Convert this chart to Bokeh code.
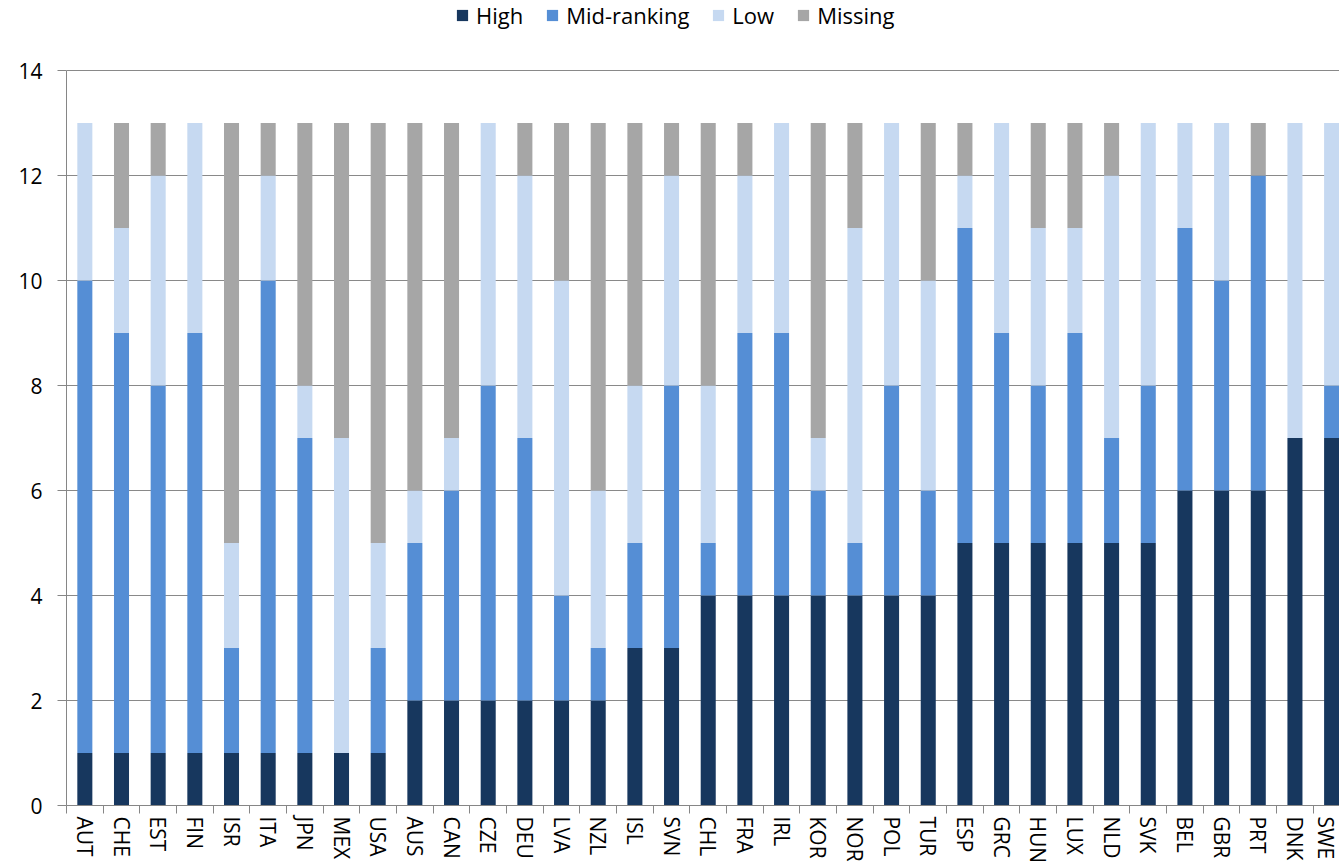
from bokeh.plotting import figure
from bokeh.models import ColumnDataSource, Range1d, FixedTicker, Legend
from bokeh.embed import file_html
from bokeh.resources import INLINE

countries = ["AUT", "CHE", "EST", "FIN", "ISR", "ITA", "JPN", "MEX", "USA", "AUS",
             "CAN", "CZE", "DEU", "LVA", "NZL", "ISL", "SVN", "CHL", "FRA", "IRL",
             "KOR", "NOR", "POL", "TUR", "ESP", "GRC", "HUN", "LUX", "NLD", "SVK",
             "BEL", "GBR", "PRT", "DNK", "SWE"]
high    = [1, 1, 1, 1, 1, 1, 1, 1, 1, 2, 2, 2, 2, 2, 2, 3, 3, 4, 4, 4, 4, 4, 4, 4, 5, 5, 5, 5, 5, 5, 6, 6, 6, 7, 7]
mid     = [9, 8, 7, 8, 2, 9, 6, 0, 2, 3, 4, 6, 5, 2, 1, 2, 5, 1, 5, 5, 2, 1, 4, 2, 6, 4, 3, 4, 2, 3, 5, 4, 6, 0, 1]
low     = [3, 2, 4, 4, 2, 2, 1, 6, 2, 1, 1, 5, 5, 6, 3, 3, 4, 3, 3, 4, 1, 6, 5, 4, 1, 4, 3, 2, 5, 5, 2, 3, 0, 6, 5]
missing = [0, 2, 1, 0, 8, 1, 5, 6, 8, 7, 6, 0, 1, 3, 7, 5, 1, 5, 1, 0, 6, 2, 0, 3, 1, 0, 2, 2, 1, 0, 0, 0, 1, 0, 0]
series = ["High", "Mid-ranking", "Low", "Missing"]
colors = ["#17375E", "#558ED5", "#C6D9F1", "#A6A6A6"]
y_ticks = [0, 2, 4, 6, 8, 10, 12, 14]

n = len(countries)
centers = [i + 0.5 for i in range(n)]
source = ColumnDataSource(dict(x=centers, High=high, **{"Mid-ranking": mid}, Low=low, Missing=missing))

FONT = "Open Sans"
FRAME_W = 1273
PLOT_TOP = 70          # pixels reserved above the 14 gridline (legend lives there)
PLOT_H = 735           # pixels from 0 to 14
FRAME_H = PLOT_H + PLOT_TOP
Y_MAX = 14

p = figure(frame_width=FRAME_W, frame_height=FRAME_H, output_backend="svg", toolbar_location=None,
           x_range=Range1d(0, FRAME_W / 36.67), y_range=Range1d(0, Y_MAX * FRAME_H / PLOT_H),
           min_border_left=66, min_border_right=0, min_border_top=0, min_border_bottom=50)
p.outline_line_color = None
p.background_fill_color = "white"

renderers = p.vbar_stack(series, x="x", width=0.41, color=colors, line_color=None, source=source)

# grid
p.xgrid.grid_line_color = None
p.ygrid.ticker = FixedTicker(ticks=y_ticks)
p.ygrid.grid_line_color = "#898989"
p.ygrid.grid_line_width = 1

# y axis
p.yaxis.ticker = FixedTicker(ticks=y_ticks)
p.yaxis.bounds = (0, Y_MAX)
p.yaxis.axis_line_color = "#868686"
p.yaxis.major_tick_line_color = "#868686"
p.yaxis.major_tick_out = 9
p.yaxis.major_tick_in = 0
p.yaxis.minor_tick_line_color = None
p.yaxis.major_label_text_font = FONT
p.yaxis.major_label_text_font_size = "21px"
p.yaxis.major_label_text_color = "#000000"
p.yaxis.major_label_standoff = 15

# x axis: labels at centres, tick marks at category boundaries
p.xaxis.ticker = FixedTicker(ticks=centers, minor_ticks=list(range(n + 1)))
p.xaxis.major_label_overrides = {c: lab for c, lab in zip(centers, countries)}
p.xaxis.major_tick_line_color = None
p.xaxis.major_tick_out = 8
p.xaxis.minor_tick_line_color = "#868686"
p.xaxis.minor_tick_out = 8
p.xaxis.minor_tick_in = 0
p.xaxis.axis_line_color = "#868686"
p.xaxis.major_label_orientation = "vertical"
p.xaxis.major_label_text_font = FONT
p.xaxis.major_label_text_font_size = "21px"
p.xaxis.major_label_text_color = "#000000"
p.xaxis.major_label_standoff = 3

legend = Legend(items=[(s, [r]) for s, r in zip(series, renderers)],
                orientation="horizontal", location=(389, FRAME_H - 30),
                label_text_font=FONT, label_text_font_size="22px", label_text_color="#000000",
                glyph_width=14, glyph_height=14, label_standoff=7, spacing=22,
                padding=0, margin=0, border_line_color=None, background_fill_alpha=0)
p.add_layout(legend, "center")

open("out.html", "w").write(file_html(p, INLINE))
